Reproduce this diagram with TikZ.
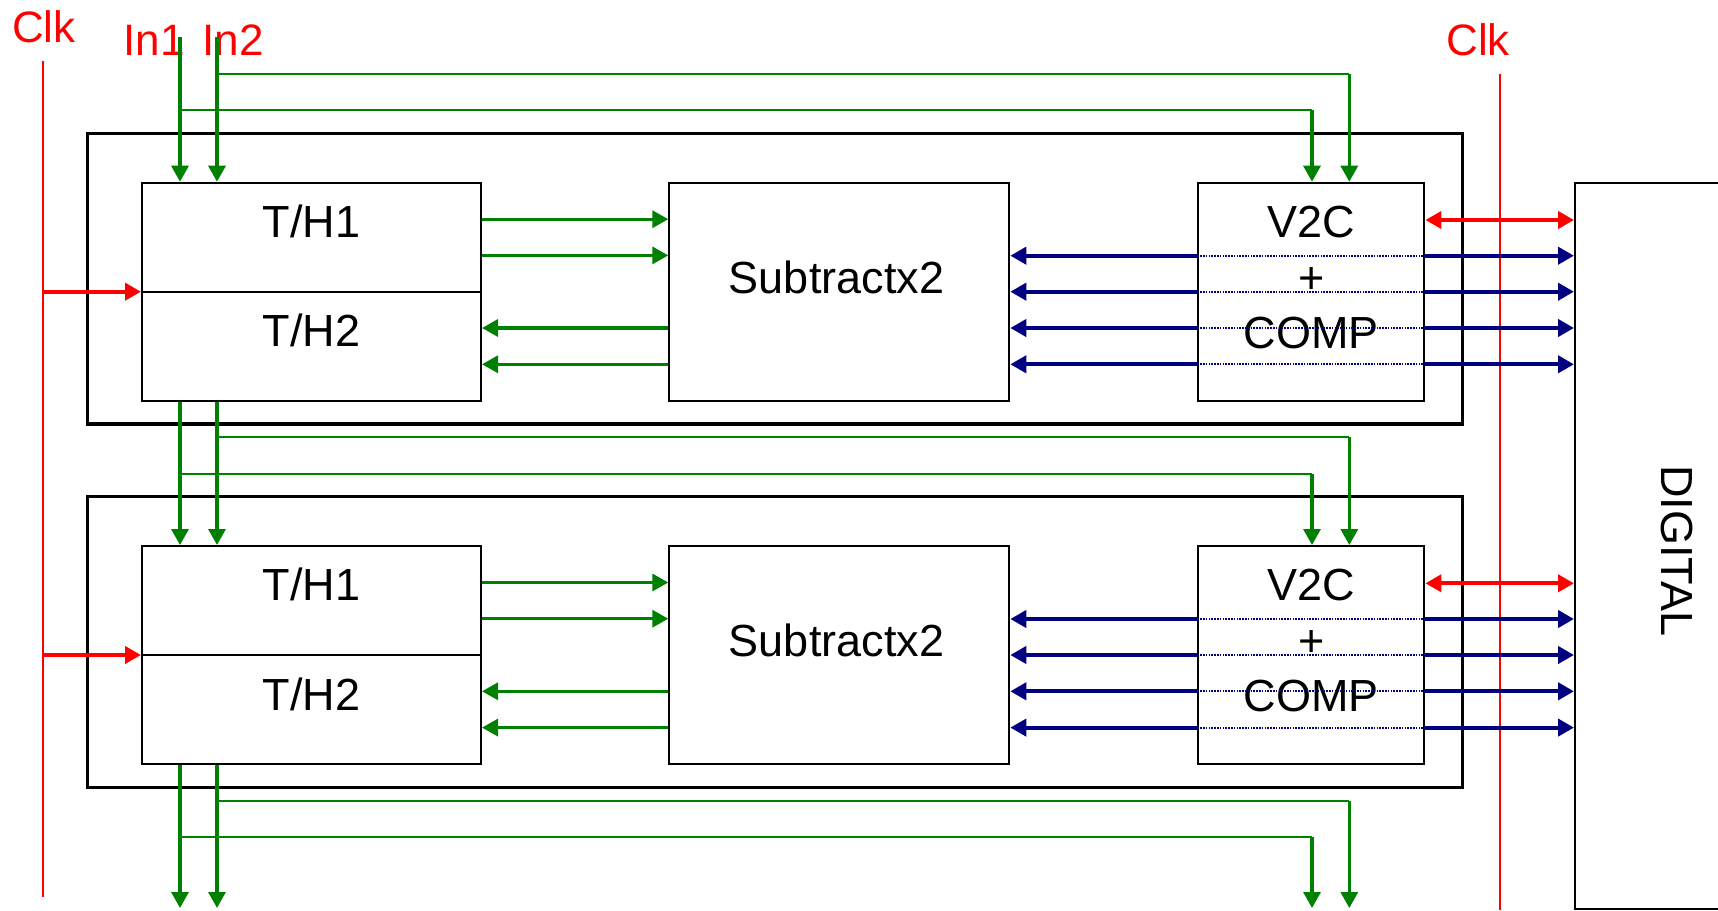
\documentclass[tikz,border=0pt]{standalone}
\usepackage{fontspec}
\setmainfont{Liberation Sans}
\usetikzlibrary{arrows.meta,calc}
\definecolor{dgreen}{RGB}{0,128,0}
\definecolor{navyb}{RGB}{0,0,128}
\definecolor{redc}{RGB}{255,0,0}
\begin{document}
\begin{tikzpicture}[x=1pt,y=-1pt,
  txt/.style={font=\fontsize{45}{55}\selectfont, inner sep=0pt, anchor=base},
  rtxt/.style={font=\fontsize{44}{53}\selectfont, inner sep=0pt, anchor=base, text=redc},
  outerbox/.style={draw, line width=3.5pt, inner sep=0pt, minimum width=1375pt, minimum height=290.7pt},
  blk/.style={draw, line width=2pt, inner sep=0pt, minimum height=218pt},
  tip/.style={-{Triangle[length=16pt,width=17pt]}},
  tipL/.style={{Triangle[length=16pt,width=17pt]}-},
  tipLR/.style={{Triangle[length=16pt,width=17pt]}-{Triangle[length=16pt,width=17pt]}},
  gthick/.style={draw=dgreen, line width=3.3pt},
  gthin/.style={draw=dgreen, line width=2pt},
  bthick/.style={draw=navyb, line width=4pt},
  bdot/.style={draw=navyb, line width=2pt, dash pattern=on 1.5pt off 1.3pt},
  rthick/.style={draw=redc, line width=4pt},
  rthin/.style={draw=redc, line width=1.8pt}]
\useasboundingbox (0,0) rectangle (1718,910);
\fill[white] (0,0) rectangle (1718,910);

% DIGITAL block
\node[blk, minimum width=145pt, minimum height=726pt] (dig) at (1647.5,546) {};
\node[font=\fontsize{45}{55}\selectfont, inner sep=0pt, rotate=-90] (digt) at (1676.5,551) {DIGITAL};

% clocks
\coordinate (clkL) at (42.7,61);
\coordinate (clkLb) at (42.7,897);
\coordinate (clkR) at (1500,74);
\coordinate (clkRb) at (1500,910);
\draw[rthin] (clkL) -- (clkLb);
\draw[rthin] (clkR) -- (clkRb);
\node[rtxt] (lclk) at (44,42.7) {Clk};
\node[rtxt] (rclk) at (1478,55) {Clk};
\node[rtxt] (lin1) at (154,55) {In1};
\node[rtxt] (lin2) at (233,55) {In2};

\foreach \b/\o in {1/0,2/363.3} {
  \node[outerbox] (out\b) at (775.2,278.7+\o) {};
  \node[blk, minimum width=339pt] (th\b) at (311.5,291.7+\o) {};
  \draw[line width=2pt] (th\b.west) -- (th\b.east);
  \node[blk, minimum width=340pt] (sub\b) at (839.3,291.7+\o) {};
  \node[blk, minimum width=226pt] (v2c\b) at (1311.4,291.7+\o) {};
  \node[txt] (tha\b) at (311.5,237+\o) {T/H1};
  \node[txt] (thb\b) at (311.5,346.7+\o) {T/H2};
  \node[txt] (subt\b) at (836.5,293.3+\o) {Subtractx2};
  \node[txt] (va\b) at (1311.4,237+\o) {V2C};
  \node[txt] (vb\b) at (1311.4,293+\o) {+};
  \node[txt] (vc\b) at (1311.4,348+\o) {COMP};
  % T/H <-> Subtract
  \foreach \s in {72.5,36.3}
    \draw[gthick,tip] ([yshift=\s pt]th\b.east) -- ([yshift=\s pt]sub\b.west);
  \foreach \s in {-36.3,-72.6}
    \draw[gthick,tip] ([yshift=\s pt]sub\b.west) -- ([yshift=\s pt]th\b.east);
  % blue buses
  \foreach \s in {36,0,-36.3,-72.6} {
    \coordinate (bl) at ([yshift=\s pt]v2c\b.west);
    \coordinate (br) at ([yshift=\s pt]v2c\b.east);
    \draw[bthick,tipL] (bl -| sub\b.east) -- (bl);
    \draw[bdot] (bl) -- (br);
    \draw[bthick,tip] (br) -- (br -| dig.west);
  }
  % red link
  \coordinate (rr) at ([yshift=71.7pt]v2c\b.east);
  \draw[rthick,tipLR] (rr) -- (rr -| dig.west);
  % clock arrow
  \draw[rthick,tip] (clkL |- th\b.west) -- (th\b.west);
}

% green signal routing
\coordinate (in1) at (180,37);
\coordinate (in2) at (217,37);
\coordinate (bot) at (0,908);
% level 1
\draw[gthick,tip] (in1) -- (in1 |- th1.north);
\draw[gthick,tip] (in2) -- (in2 |- th1.north);
\coordinate (hB1) at (1349.3,74);
\coordinate (hA1) at (1312,110);
\draw[gthin] (in2 |- hB1) -- (hB1);
\draw[gthin] (in1 |- hA1) -- (hA1);
\draw[gthick,tip] (hB1) -- (hB1 |- v2c1.north);
\draw[gthick,tip] (hA1) -- (hA1 |- v2c1.north);
% level 2
\draw[gthick,tip] (in1 |- th1.south) -- (in1 |- th2.north);
\draw[gthick,tip] (in2 |- th1.south) -- (in2 |- th2.north);
\coordinate (hB2) at (1349.3,437.3);
\coordinate (hA2) at (1312,473.7);
\draw[gthin] (in2 |- hB2) -- (hB2);
\draw[gthin] (in1 |- hA2) -- (hA2);
\draw[gthick,tip] (hB2) -- (hB2 |- v2c2.north);
\draw[gthick,tip] (hA2) -- (hA2 |- v2c2.north);
% level 3 (outputs)
\draw[gthick,tip] (in1 |- th2.south) -- (in1 |- bot);
\draw[gthick,tip] (in2 |- th2.south) -- (in2 |- bot);
\coordinate (hB3) at (1349.3,800.7);
\coordinate (hA3) at (1312,837);
\draw[gthin] (in2 |- hB3) -- (hB3);
\draw[gthin] (in1 |- hA3) -- (hA3);
\draw[gthick,tip] (hB3) -- (hB3 |- bot);
\draw[gthick,tip] (hA3) -- (hA3 |- bot);
\end{tikzpicture}
\end{document}
